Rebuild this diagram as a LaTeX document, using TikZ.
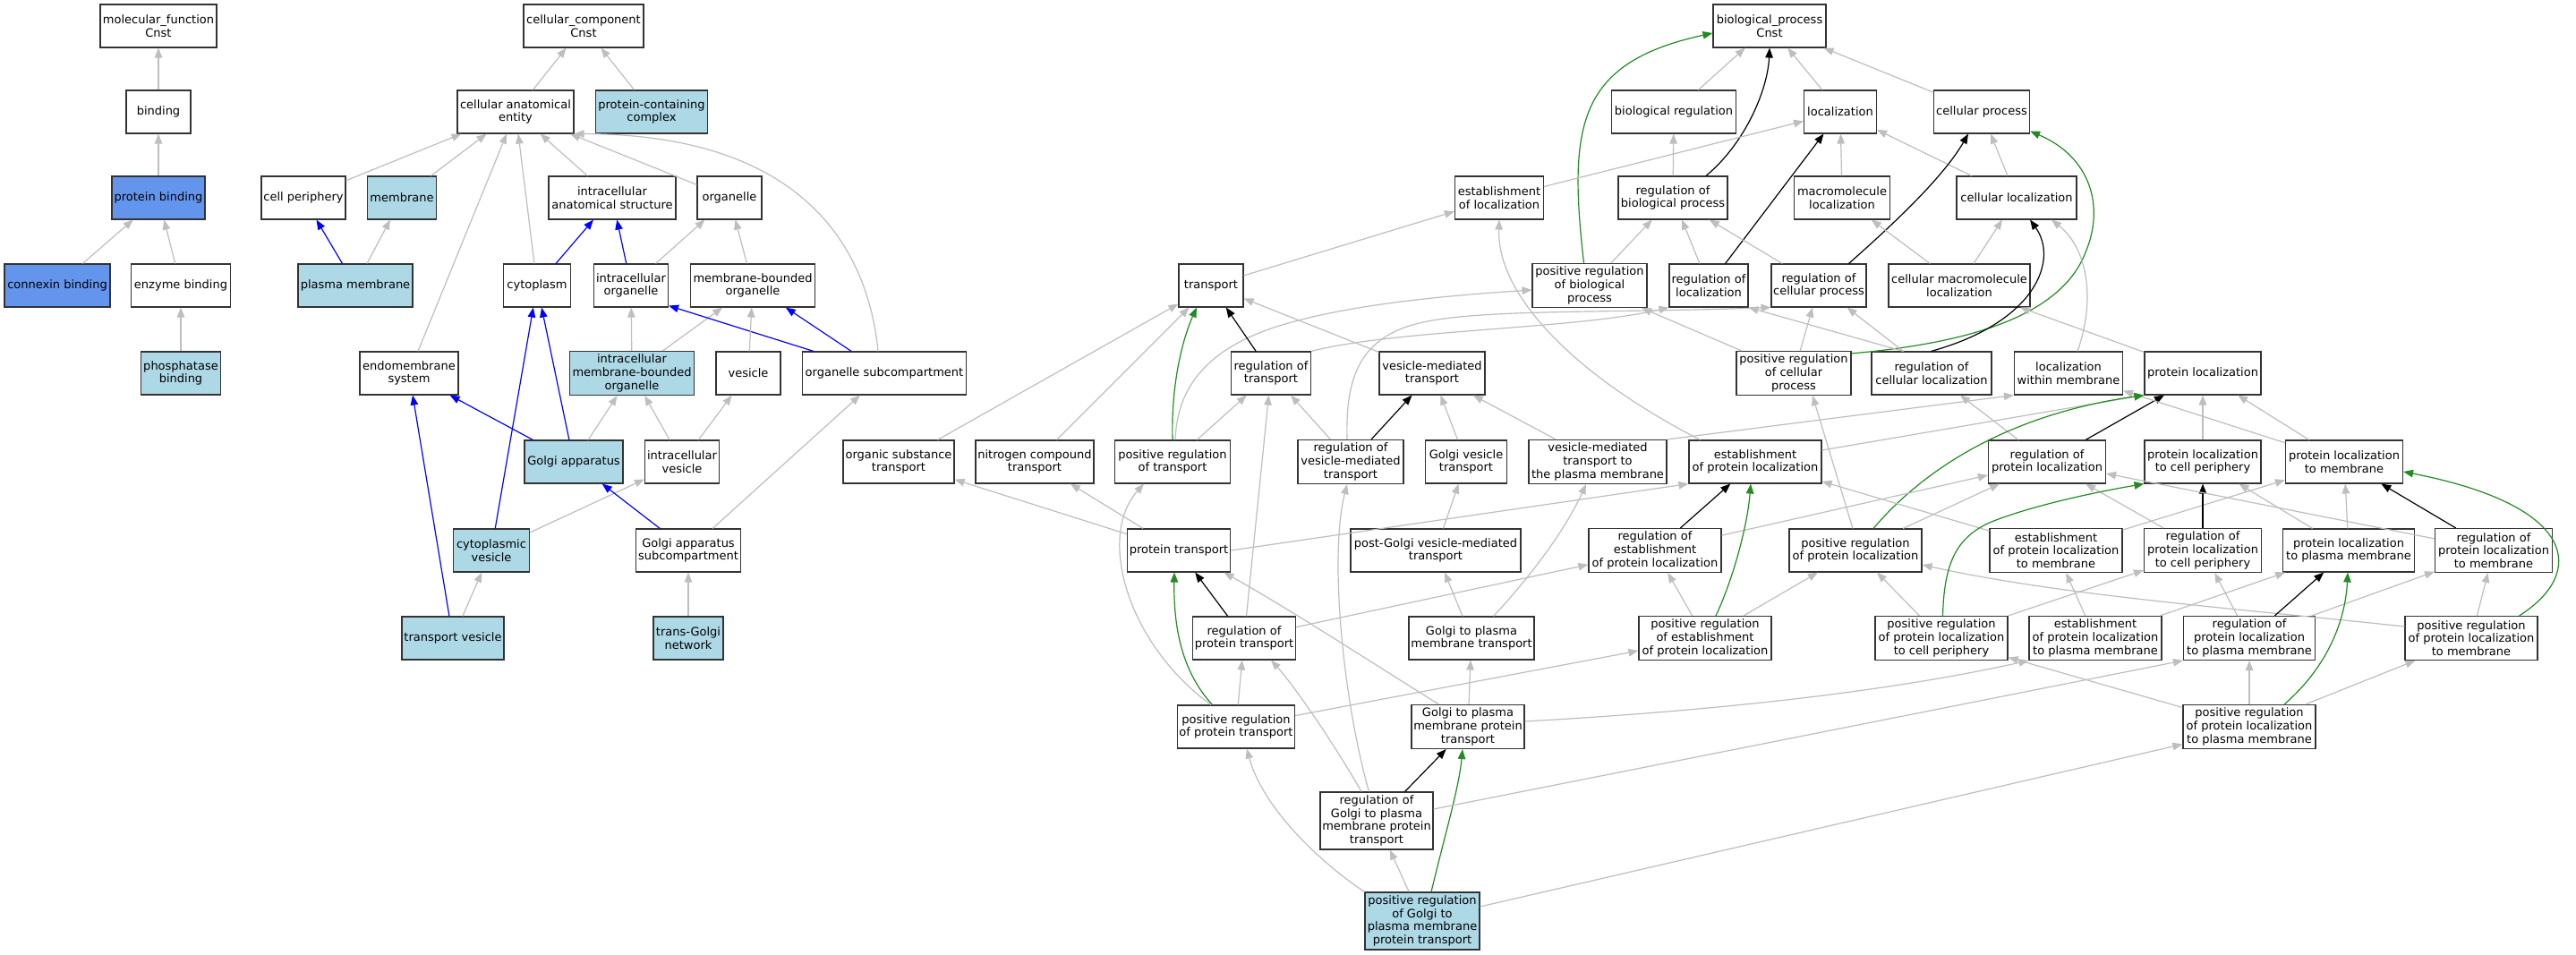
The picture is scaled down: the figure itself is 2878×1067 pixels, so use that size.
\documentclass[tikz,border=0pt]{standalone}
\usepackage{fontspec}
\setmainfont{DejaVu Sans}
\usetikzlibrary{arrows.meta,calc}
\definecolor{lb}{HTML}{ADD8E6}
\definecolor{cfb}{HTML}{6495ED}
\definecolor{eg}{HTML}{BEBEBE}
\definecolor{fg}{HTML}{228B22}
\definecolor{bl}{HTML}{0000FF}
\begin{document}
\begin{tikzpicture}[x=1pt,y=-1pt,
  gb/.style={draw=black!80, line width=1.1pt, fill=white, inner sep=0pt, minimum height=48pt, align=center, font=\fontsize{13}{14.8}\selectfont},
  ed/.style={-{Triangle[length=11pt,width=8.5pt]}, line width=1.2pt},
  ge/.style={ed, draw=eg},
  be/.style={ed, draw=bl},
  ke/.style={ed, draw=black},
  gr/.style={ed, draw=fg}]
\useasboundingbox[fill=white] (0,0) rectangle (2878,1067);
% row 1
\node[gb,minimum width=130pt] (mf) at (177,29) {molecular\_function\\Cnst};
\node[gb,minimum width=134pt] (cc) at (652,29) {cellular\_component\\Cnst};
\node[gb,minimum width=126pt] (bp) at (1977,29) {biological\_process\\Cnst};
% row 2
\node[gb,minimum width=72pt] (binding) at (177,125) {binding};
\node[gb,minimum width=130pt] (cae) at (576,125) {cellular anatomical\\entity};
\node[gb,fill=lb,minimum width=125pt] (pcc) at (728,125) {protein-containing\\complex};
\node[gb,minimum width=139pt] (bioreg) at (1870,125) {biological regulation};
\node[gb,minimum width=81pt] (loc) at (2056,125) {localization};
\node[gb,minimum width=107pt] (cellproc) at (2214,125) {cellular process};
% row 3
\node[gb,fill=cfb,minimum width=104pt] (pbind) at (177,221) {protein binding};
\node[gb,minimum width=94pt] (cellper) at (339,221) {cell periphery};
\node[gb,fill=lb,minimum width=77pt] (membrane) at (449,221) {membrane};
\node[gb,minimum width=142pt] (ias) at (684,221) {intracellular\\anatomical structure};
\node[gb,minimum width=72pt] (organelle) at (815,221) {organelle};
\node[gb,minimum width=99pt] (eol) at (1675,221) {establishment\\of localization};
\node[gb,minimum width=122pt] (rbp) at (1869,221) {regulation of\\biological process};
\node[gb,minimum width=107pt] (macloc) at (2058,221) {macromolecule\\localization};
\node[gb,minimum width=134pt] (cellloc) at (2253,221) {cellular localization};
% row 4
\node[gb,fill=cfb,minimum width=118pt] (conbind) at (64,319) {connexin binding};
\node[gb,minimum width=111pt] (enzbind) at (202,319) {enzyme binding};
\node[gb,fill=lb,minimum width=128pt] (pm) at (397,319) {plasma membrane};
\node[gb,minimum width=75pt] (cytoplasm) at (600,319) {cytoplasm};
\node[gb,minimum width=83pt] (io) at (705,319) {intracellular\\organelle};
\node[gb,minimum width=139pt] (mbo) at (841,319) {membrane-bounded\\organelle};
\node[gb,minimum width=72pt] (transport) at (1353,319) {transport};
\node[gb,minimum width=128pt,minimum height=49pt] (prbp) at (1776,319) {positive regulation\\of biological\\process};
\node[gb,minimum width=88pt] (rol) at (1909,319) {regulation of\\localization};
\node[gb,minimum width=106pt] (rcp) at (2032,319) {regulation of\\cellular process};
\node[gb,minimum width=158pt] (cml) at (2189,319) {cellular macromolecule\\localization};
% row 5
\node[gb,fill=lb,minimum width=89pt] (phosbind) at (202,417) {phosphatase\\binding};
\node[gb,minimum width=110pt] (ems) at (457,417) {endomembrane\\system};
\node[gb,fill=lb,minimum width=139pt,minimum height=49pt] (imbo) at (706,417) {intracellular\\membrane-bounded\\organelle};
\node[gb,minimum width=72pt] (vesicle) at (836,417) {vesicle};
\node[gb,minimum width=183pt] (osc) at (988,417) {organelle subcompartment};
\node[gb,minimum width=89pt] (rt) at (1420,417) {regulation of\\transport};
\node[gb,minimum width=118pt] (vmt) at (1600,417) {vesicle-mediated\\transport};
\node[gb,minimum width=128pt,minimum height=49pt] (prcp) at (2004,417) {positive regulation\\of cellular\\process};
\node[gb,minimum width=134pt] (rcl) at (2158,417) {regulation of\\cellular localization};
\node[gb,minimum width=121pt] (lwm) at (2311,417) {localization\\within membrane};
\node[gb,minimum width=130pt] (pl) at (2461,417) {protein localization};
% row 6
\node[gb,fill=lb,minimum width=110pt] (golgi) at (641,516) {Golgi apparatus};
\node[gb,minimum width=83pt] (iv) at (762,516) {intracellular\\vesicle};
\node[gb,minimum width=124pt] (ost) at (1004,516) {organic substance\\transport};
\node[gb,minimum width=132pt] (nct) at (1156,516) {nitrogen compound\\transport};
\node[gb,minimum width=129pt] (prt) at (1310,516) {positive regulation\\of transport};
\node[gb,minimum width=118pt,minimum height=49pt] (rvmt) at (1509,516) {regulation of\\vesicle-mediated\\transport};
\node[gb,minimum width=91pt] (gvt) at (1638,516) {Golgi vesicle\\transport};
\node[gb,minimum width=154pt,minimum height=49pt] (vmtpm) at (1785,516) {vesicle-mediated\\transport to\\the plasma membrane};
\node[gb,minimum width=148pt] (epl) at (1961,516) {establishment\\of protein localization};
\node[gb,minimum width=131pt] (rpl) at (2287,516) {regulation of\\protein localization};
\node[gb,minimum width=130pt] (plcp) at (2461,516) {protein localization\\to cell periphery};
\node[gb,minimum width=131pt] (plm) at (2619,516) {protein localization\\to membrane};
% row 7
\node[gb,fill=lb,minimum width=85pt] (cytves) at (549,615) {cytoplasmic\\vesicle};
\node[gb,minimum width=117pt] (gas) at (769,615) {Golgi apparatus\\subcompartment};
\node[gb,minimum width=115pt] (ptrans) at (1317,615) {protein transport};
\node[gb,minimum width=190pt] (pgvmt) at (1604,615) {post-Golgi vesicle-mediated\\transport};
\node[gb,minimum width=148pt,minimum height=49pt] (rspl) at (1849,615) {regulation of\\establishment\\of protein localization};
\node[gb,minimum width=148pt] (prpl) at (2073,615) {positive regulation\\of protein localization};
\node[gb,minimum width=148pt,minimum height=49pt] (eplm) at (2297,615) {establishment\\of protein localization\\to membrane};
\node[gb,minimum width=131pt,minimum height=49pt] (rplcp) at (2461,615) {regulation of\\protein localization\\to cell periphery};
\node[gb,minimum width=147pt] (plpm) at (2624,615) {protein localization\\to plasma membrane};
\node[gb,minimum width=131pt,minimum height=49pt] (rplm) at (2786,615) {regulation of\\protein localization\\to membrane};
% row 8
\node[gb,fill=lb,minimum width=114pt] (tv) at (506,713) {transport vesicle};
\node[gb,fill=lb,minimum width=78pt] (tgn) at (769,713) {trans-Golgi\\network};
\node[gb,minimum width=115pt] (rpt) at (1390,713) {regulation of\\protein transport};
\node[gb,minimum width=140pt] (gpmt) at (1644,713) {Golgi to plasma\\membrane transport};
\node[gb,minimum width=148pt,minimum height=49pt] (prspl) at (1905,713) {positive regulation\\of establishment\\of protein localization};
\node[gb,minimum width=148pt,minimum height=49pt] (prplcp) at (2169,713) {positive regulation\\of protein localization\\to cell periphery};
\node[gb,minimum width=148pt,minimum height=49pt] (eplpm) at (2341,713) {establishment\\of protein localization\\to plasma membrane};
\node[gb,minimum width=147pt,minimum height=49pt] (rplpm) at (2513,713) {regulation of\\protein localization\\to plasma membrane};
\node[gb,minimum width=148pt,minimum height=49pt] (prplm) at (2761,713) {positive regulation\\of protein localization\\to membrane};
% row 9
\node[gb,minimum width=131pt] (prpt) at (1381,812) {positive regulation\\of protein transport};
\node[gb,minimum width=126pt,minimum height=49pt] (gpmpt) at (1640,812) {Golgi to plasma\\membrane protein\\transport};
\node[gb,minimum width=148pt,minimum height=49pt] (prplpm) at (2513,812) {positive regulation\\of protein localization\\to plasma membrane};
% rows 10-11
\node[gb,minimum width=126pt,minimum height=64pt] (rgpmpt) at (1538,917) {regulation of\\Golgi to plasma\\membrane protein\\transport};
\node[gb,fill=lb,minimum width=128pt,minimum height=64pt] (prgpmpt) at (1589,1029) {positive regulation\\of Golgi to\\plasma membrane\\protein transport};

% ---- molecular function
\draw[ge] (binding) -- (mf);
\draw[ge] (pbind) -- (binding);
\draw[ge] (conbind) -- (pbind);
\draw[ge] (enzbind) -- (pbind);
\draw[ge] (phosbind) -- (enzbind);
% ---- cellular component
\draw[ge] (cae) -- (cc);
\draw[ge] (pcc) -- (cc);
\draw[ge] (cellper) -- (cae);
\draw[ge] (membrane) -- (cae);
\draw[ge] (ems) -- (cae);
\draw[ge] (cytoplasm) -- (cae);
\draw[ge] (ias) -- (cae);
\draw[ge] (organelle) -- (cae);
\draw[ge] ($(osc.north)+(-7,0)$) .. controls (970,280) and (900,150) .. (cae.south east);
\draw[be] (pm) -- (cellper);
\draw[ge] (pm) -- (membrane);
\draw[be] (cytoplasm) -- (ias);
\draw[be] (io) -- (ias);
\draw[ge] (io) -- (organelle);
\draw[ge] (mbo) -- (organelle);
\draw[ge] (imbo) -- (io);
\draw[ge] (imbo) -- (mbo);
\draw[be] ($(osc.north)+(-79,0)$) -- ($(io.south east)+(0,-2)$);
\draw[be] (osc) -- (mbo);
\draw[ge] (vesicle) -- (mbo);
\draw[be] (golgi) -- (ems);
\draw[be] (golgi) -- (cytoplasm);
\draw[ge] (golgi) -- (imbo);
\draw[be] (cytves) -- (cytoplasm);
\draw[be] (tv) -- (ems);
\draw[ge] (tv) -- (cytves);
\draw[ge] (cytves) -- (iv);
\draw[ge] (iv) -- (imbo);
\draw[ge] (iv) -- (vesicle);
\draw[be] (gas) -- (golgi);
\draw[ge] (gas) -- (osc);
\draw[ge] (tgn) -- (gas);
% ---- biological process
\draw[ge] (bioreg) -- (bp);
\draw[ge] (loc) -- (bp);
\draw[ge] (cellproc) -- (bp);
\draw[ke] ($(rbp.north)+(37,0)$) .. controls (1950,160) and (1975,100) .. (bp.south);
\draw[gr] ($(prbp.north)+(-6.5,0)$) .. controls (1752,140) and (1762,70) .. ($(bp.west)+(0,8)$);
\draw[ge] (rbp) -- (bioreg);
\draw[ge] (eol) -- (loc);
\draw[ge] (transport) -- (eol);
\draw[ge] (macloc) -- (loc);
\draw[ge] (cellloc) -- (loc);
\draw[ge] (cellloc) -- (cellproc);
\draw[ke] (rol) -- (loc);
\draw[ge] (rol) -- (rbp);
\draw[ge] (prbp) -- (rbp);
\draw[ge] (rcp) -- (rbp);
\draw[ke] ($(rcp.north east)+(-20,0)$) .. controls (2110,255) and (2170,200) .. ($(cellproc.south)+(-15,0)$);
\draw[ge] (cml) -- (macloc);
\draw[ge] (cml) -- (cellloc);
\draw[ge] (prcp) -- (rcp);
\draw[ge] (prcp) -- (prbp);
\draw[gr] ($(prcp.north east)+(0,3)$) .. controls (2180,385) and (2300,360) .. (2330,282) .. controls (2352,230) and (2335,175) .. ($(cellproc.south east)+(0,-3)$);
\draw[ke] ($(rcl.north west)+(67,0)$) .. controls (2275,360) and (2300,290) .. ($(cellloc.south)+(15,0)$);
\draw[ge] ($(rcl.north west)+(36,0)$) -- (rol.south east);
\draw[ge] (rcl) -- (rcp);
\draw[ge] (rt.north east) .. controls (1560,368) and (1760,368) .. (rol.south west);
\draw[ge] ($(rvmt.north)+(-4,0)$) .. controls (1503,420) and (1520,375) .. (1590,360) .. controls (1660,345) and (1800,350) .. (rcp.south west);
\draw[ge] ($(prt.north)+(3,0)$) .. controls (1315,440) and (1340,395) .. (1420,367) .. controls (1500,340) and (1620,330) .. ($(prbp.west)+(0,5)$);
\draw[ge] (vmt) -- (transport);
\draw[ge] (ost) -- (transport);
\draw[ge] (nct) -- (transport);
\draw[gr] (prt.north) .. controls (1308,420) and (1325,370) .. ($(transport.south)+(-16,0)$);
\draw[ke] (rt) -- (transport);
\draw[ge] (prt) -- (rt);
\draw[ke] (rvmt) -- (vmt);
\draw[ge] (rvmt) -- (rt);
\draw[ge] (gvt) -- (vmt);
\draw[ge] (vmtpm) -- (vmt);
\draw[ge] ($(epl.north west)+(13,0)$) .. controls (1760,420) and (1672,330) .. (eol.south);
\draw[ge] ($(epl.east)+(0,-13)$) -- (pl.south west);
\draw[ge] (vmtpm.north east) -- (lwm.south west);
\draw[ge] (pl) -- (cml);
\draw[ge] ($(lwm.north)+(10,0)$) .. controls (2340,340) and (2335,280) .. ($(cellloc.south)+(39,0)$);
\draw[ge] (rpl) -- (rcl);
\draw[ke] (rpl) -- (pl);
\draw[ge] (plcp) -- (pl);
\draw[ge] (plm) -- (pl);
\draw[ge] (plm) -- (lwm);
\draw[gr] ($(prpl.north)+(20,0)$) .. controls (2140,535) and (2230,465) .. (pl.south west);
% ---- lower part
\draw[ge] (ptrans) -- (ost);
\draw[ge] (ptrans) -- (nct);
\draw[ge] (ptrans.east) -- (epl.south west);
\draw[ke] (rpt) -- (ptrans);
\draw[gr] ($(prpt.north)+(-26.5,0)$) .. controls (1320,750) and (1311,700) .. ($(ptrans.south)+(-5,0)$);
\draw[ge] (prpt) -- (rpt);
\draw[ge] (rpt) -- (rt);
\draw[ge] (rpt) -- (rspl);
\draw[ge] ($(prpt.north)+(-28,0)$) .. controls (1260,720) and (1225,600) .. ($(prt.south)+(-32,0)$);
\draw[ge] (prpt) -- (prspl);
\draw[ge] ($(rgpmpt.north)+(-17,0)$) .. controls (1490,830) and (1445,765) .. ($(rpt.south)+(30,0)$);
\draw[ge] ($(rgpmpt.north)+(-8.6,0)$) .. controls (1500,780) and (1485,620) .. ($(rvmt.south)+(-4,0)$);
\draw[ke] (rgpmpt) -- (gpmpt);
\draw[gr] ($(prgpmpt.north)+(10,0)$) .. controls (1615,930) and (1630,880) .. ($(gpmpt.south)+(-6,0)$);
\draw[ge] (prgpmpt) -- (rgpmpt);
\draw[ge] (prgpmpt.north west) .. controls (1470,960) and (1410,900) .. ($(prpt.south)+(12,0)$);
\draw[ge] ($(prgpmpt.east)+(0,-16)$) -- ($(prplpm.west)+(0,19.5)$);
\draw[ge] ($(gpmpt.north)+(-32.5,0)$) .. controls (1540,745) and (1440,680) .. ($(ptrans.south east)+(-7.7,0)$);
\draw[ge] (gpmpt) -- (gpmt);
\draw[ge] ($(gpmpt.east)+(0,-6)$) .. controls (1900,795) and (2100,775) .. (eplpm.south west);
\draw[ge] (gpmt) -- (pgvmt);
\draw[ge] ($(gpmt.north east)+(-46,0)$) .. controls (1700,655) and (1745,600) .. ($(vmtpm.south)+(-13,0)$);
\draw[ge] (pgvmt) -- (gvt);
\draw[ke] (rspl) -- (epl);
\draw[ge] (rspl) -- (rpl);
\draw[ge] (prspl) -- (rspl);
\draw[gr] ($(prspl.north)+(12,0)$) .. controls (1935,650) and (1952,590) .. ($(epl.south)+(-5,0)$);
\draw[ge] (prspl) -- (prpl);
\draw[ge] ($(prpl.north)+(-3,0)$) -- ($(prcp.south)+(21,0)$);
\draw[ge] (prpl) -- (rpl);
\draw[ge] (eplm) -- (epl);
\draw[ge] (eplm) -- (plm);
\draw[ge] (rplcp) -- (rpl);
\draw[ke] (rplcp) -- (plcp);
\draw[ge] (plpm) -- (plcp);
\draw[ge] (plpm) -- (plm);
\draw[ke] (rplm) -- (plm);
\draw[ge] (rplm) -- (rpl);
\draw[gr] ($(prplm.north east)+(-21,0)$) .. controls (2890,640) and (2880,565) .. ($(plm.east)+(0,11)$);
\draw[ge] (prplm) -- (rplm);
\draw[ge] ($(prplm.west)+(0,-13)$) .. controls (2500,680) and (2300,665) .. ($(prpl.east)+(0,16)$);
\draw[ge] (rplpm) -- (rplcp);
\draw[ge] (rplpm) -- (rplm);
\draw[ke] (rplpm) -- (plpm);
\draw[ge] (eplpm) -- (eplm);
\draw[ge] (eplpm) -- (plpm);
\draw[gr] ($(prplcp.north)+(1.5,0)$) .. controls (2172,630) and (2185,600) .. (2225,583) .. controls (2270,565) and (2340,550) .. (plcp.south west);
\draw[ge] (prplcp) -- (prpl);
\draw[ge] (prplcp) -- (rplcp);
\draw[gr] ($(prplpm.north)+(39,0)$) .. controls (2595,750) and (2620,700) .. ($(plpm.south)+(-1,0)$);
\draw[ge] (prplpm) -- (rplpm);
\draw[ge] (prplpm) -- (prplm);
\draw[ge] (prplpm) -- (prplcp);
\draw[ge] ($(rgpmpt.east)+(0,-13)$) -- (rplpm.south west);
\end{tikzpicture}
\end{document}
